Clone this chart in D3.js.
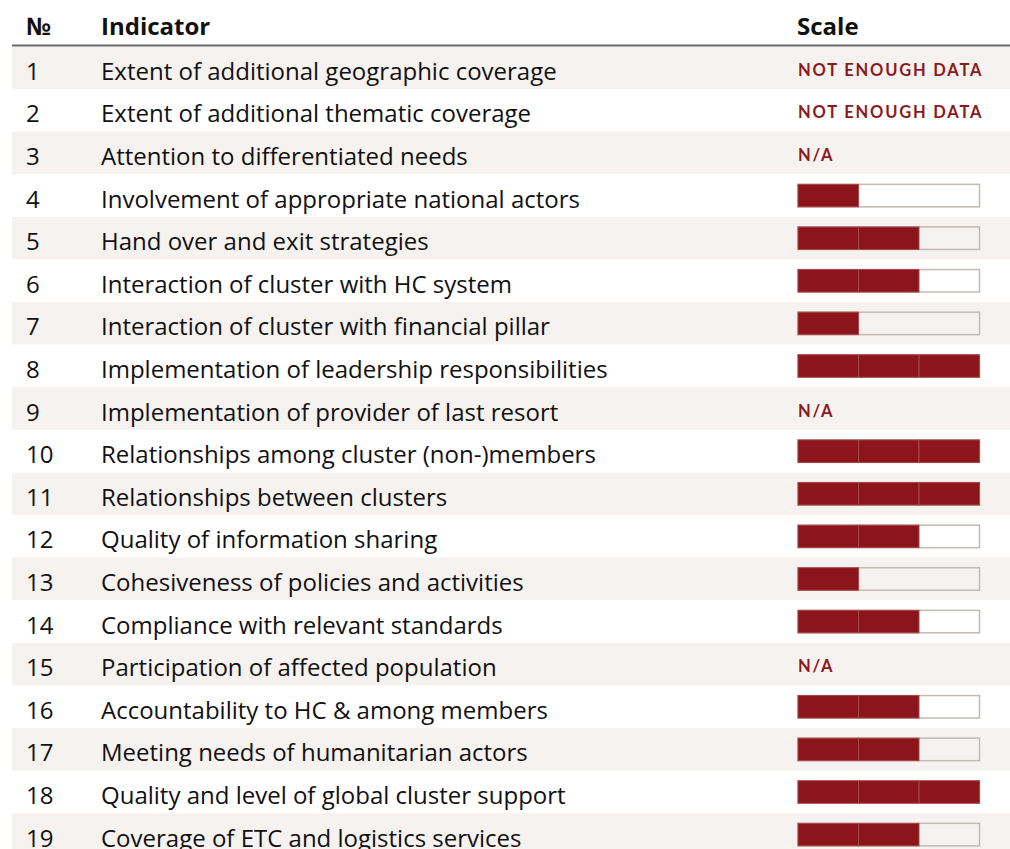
<!DOCTYPE html>
<meta charset="utf-8">
<html>
<style>
  body { margin: 0; background: #fff; }
  .chart text { font-family: "Open Sans", sans-serif; fill: #111; }
  .chart .head { font-weight: 700; font-size: 24px; }
  .chart .row text { font-size: 24px; }
  .chart .row text.flag { font-family: Lato, sans-serif; fill: #8b1a1e; font-weight: 700; font-size: 16.5px; letter-spacing: 1.8px; }
</style>
<script src="https://cdn.jsdelivr.net/npm/d3@7"></script>
<body>
  <svg class="chart"></svg>
</body>
<script>
  var width = 1010;
  var height = 849;

  var numbers = d3.range(1, 20);
  var indicators = [
    "Extent of additional geographic coverage",
    "Extent of additional thematic coverage",
    "Attention to differentiated needs",
    "Involvement of appropriate national actors",
    "Hand over and exit strategies",
    "Interaction of cluster with HC system",
    "Interaction of cluster with financial pillar",
    "Implementation of leadership responsibilities",
    "Implementation of provider of last resort",
    "Relationships among cluster (non-)members",
    "Relationships between clusters",
    "Quality of information sharing",
    "Cohesiveness of policies and activities",
    "Compliance with relevant standards",
    "Participation of affected population",
    "Accountability to HC & among members",
    "Meeting needs of humanitarian actors",
    "Quality and level of global cluster support",
    "Coverage of ETC and logistics services"
  ];
  // score out of 3; null means a text flag instead of a bar
  var scores = [null, null, null, 1, 2, 2, 1, 3, null, 3, 3, 2, 1, 2, null, 2, 2, 3, 2];
  var flags = ["NOT ENOUGH DATA", "NOT ENOUGH DATA", "N/A", "", "", "", "", "", "N/A",
    "", "", "", "", "", "N/A", "", "", "", ""];
  var maxScore = 3;

  var rowH = 42.6;
  var rowTop = 46.5;

  var y = d3.scaleBand().domain(numbers)
    .range([rowTop, rowTop + rowH * numbers.length]);

  var x = d3.scaleLinear().domain([0, maxScore])
    .range([798, 979.5]);

  var chart = d3.select(".chart")
    .attr("width", width)
    .attr("height", height);

  var row = chart.selectAll("g.row")
    .data(numbers)
    .enter().append("g")
    .attr("class", "row")
    .attr("transform", function(d) {
      return "translate(0," + y(d) + ")";
    });

  row.append("rect")
    .attr("x", 12)
    .attr("width", width - 12)
    .attr("height", y.bandwidth())
    .attr("fill", function(d, i) { return i % 2 === 0 ? "#f6f2ef" : "#fff"; });

  row.append("text")
    .attr("x", 26)
    .attr("y", y.bandwidth() / 2 + 12)
    .text(function(d) { return d; });

  row.append("text")
    .attr("x", 101)
    .attr("y", y.bandwidth() / 2 + 12)
    .text(function(d, i) { return indicators[i]; });

  row.filter(function(d, i) { return scores[i] === null; })
    .append("text")
    .attr("class", "flag")
    .attr("x", 798)
    .attr("y", y.bandwidth() / 2 + 8)
    .text(function(d) { return flags[d - 1]; });

  var barH = 22.5;
  var bars = row.filter(function(d, i) { return scores[i] !== null; })
    .append("g")
    .attr("transform", "translate(0," + ((y.bandwidth() - barH) / 2) + ")");

  bars.append("rect")
    .attr("x", x(0))
    .attr("width", x(maxScore) - x(0))
    .attr("height", barH)
    .attr("fill", "none")
    .attr("stroke", "#c3bab1")
    .attr("stroke-width", 1.5);

  bars.selectAll("rect.seg")
    .data(function(d) { return d3.range(scores[d - 1]); })
    .enter().append("rect")
    .attr("class", "seg")
    .attr("x", function(s) { return x(s); })
    .attr("width", function() { return x(1) - x(0); })
    .attr("height", barH)
    .attr("fill", "#8b151a")
    .attr("stroke", "#a9474b")
    .attr("stroke-width", 1);

  // header
  chart.append("text").attr("class", "head").attr("x", 26).attr("y", 35).text("№");
  chart.append("text").attr("class", "head").attr("x", 101).attr("y", 35).text("Indicator");
  chart.append("text").attr("class", "head").attr("x", 797).attr("y", 35).text("Scale");
  chart.append("line")
    .attr("x1", 12).attr("x2", width)
    .attr("y1", 45.5).attr("y2", 45.5)
    .attr("stroke", "#6a6a6a").attr("stroke-width", 2);
</script>
</html>
